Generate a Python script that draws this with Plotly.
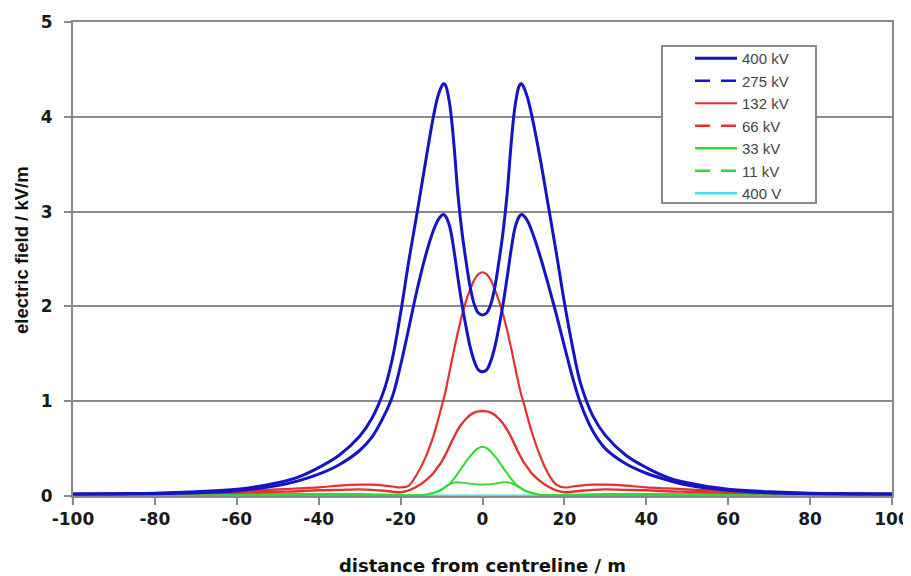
import plotly.graph_objects as go

# distance from centreline (m)
distance = [-100, -90, -80, -70, -60, -50, -45, -40, -35, -30, -27, -24, -22, -20, -18, -16, -14, -12, -11, -10,
            -9.5, -9, -8, -7, -6, -5, -4, -3, -2, -1, 0, 1, 2, 3, 4, 5, 6, 7, 8, 9,
            9.5, 10, 11, 12, 14, 16, 18, 20, 22, 24, 27, 30, 35, 40, 45, 50, 60, 70, 80, 90, 100]

# electric field (kV/m)
kv400 = [0.02, 0.025, 0.03, 0.045, 0.07, 0.14, 0.2, 0.3, 0.43, 0.63, 0.82, 1.12, 1.45, 1.93, 2.48, 2.98, 3.5, 4.0, 4.2, 4.32,
         4.35, 4.33, 4.13, 3.72, 3.18, 2.78, 2.47, 2.2, 2.02, 1.93, 1.91, 1.93, 2.02, 2.2, 2.47, 2.78, 3.18, 3.72, 4.13, 4.33,
         4.35, 4.32, 4.2, 4.02, 3.58, 3.08, 2.57, 2.04, 1.57, 1.18, 0.84, 0.64, 0.43, 0.3, 0.2, 0.14, 0.07, 0.045, 0.03, 0.025, 0.02]
kv275 = [0.02, 0.02, 0.025, 0.035, 0.055, 0.11, 0.16, 0.23, 0.33, 0.48, 0.62, 0.85, 1.05, 1.38, 1.77, 2.17, 2.52, 2.8, 2.9, 2.96,
         2.97, 2.95, 2.84, 2.6, 2.3, 2.02, 1.78, 1.57, 1.42, 1.33, 1.31, 1.33, 1.42, 1.57, 1.78, 2.02, 2.3, 2.6, 2.84, 2.95,
         2.97, 2.96, 2.9, 2.8, 2.54, 2.24, 1.92, 1.58, 1.25, 0.97, 0.68, 0.5, 0.34, 0.24, 0.17, 0.115, 0.06, 0.035, 0.025, 0.02, 0.02]
kv132 = [0.02, 0.025, 0.03, 0.04, 0.05, 0.07, 0.08, 0.09, 0.11, 0.12, 0.12, 0.11, 0.1, 0.09, 0.11, 0.23, 0.4, 0.63, 0.78, 0.94,
         1.02, 1.11, 1.32, 1.53, 1.73, 1.91, 2.06, 2.18, 2.28, 2.34, 2.36, 2.34, 2.28, 2.18, 2.06, 1.92, 1.75, 1.56, 1.35, 1.15,
         1.06, 0.99, 0.83, 0.68, 0.43, 0.24, 0.12, 0.09, 0.1, 0.11, 0.12, 0.12, 0.11, 0.09, 0.08, 0.07, 0.05, 0.04, 0.03, 0.025, 0.02]
kv66 = [0.02, 0.02, 0.025, 0.03, 0.035, 0.045, 0.05, 0.06, 0.065, 0.07, 0.065, 0.055, 0.045, 0.04, 0.06, 0.1, 0.16, 0.24, 0.3, 0.36,
        0.4, 0.44, 0.53, 0.62, 0.7, 0.765, 0.815, 0.855, 0.88, 0.892, 0.896, 0.892, 0.88, 0.855, 0.815, 0.765, 0.7, 0.62, 0.53, 0.44,
        0.4, 0.36, 0.3, 0.24, 0.16, 0.1, 0.06, 0.04, 0.045, 0.055, 0.065, 0.07, 0.065, 0.06, 0.05, 0.045, 0.035, 0.03, 0.025, 0.02, 0.02]
kv33 = [0.01, 0.01, 0.012, 0.015, 0.02, 0.02, 0.02, 0.02, 0.02, 0.02, 0.018, 0.015, 0.012, 0.01, 0.008, 0.008, 0.012, 0.03, 0.045, 0.065,
        0.08, 0.095, 0.13, 0.18, 0.24, 0.3, 0.365, 0.42, 0.47, 0.505, 0.52, 0.505, 0.47, 0.42, 0.365, 0.3, 0.24, 0.18, 0.13, 0.095,
        0.08, 0.065, 0.045, 0.03, 0.012, 0.008, 0.008, 0.01, 0.012, 0.015, 0.018, 0.02, 0.02, 0.02, 0.02, 0.02, 0.02, 0.015, 0.012, 0.01, 0.01]
kv11 = [0.005, 0.005, 0.005, 0.006, 0.007, 0.008, 0.009, 0.01, 0.01, 0.01, 0.01, 0.009, 0.009, 0.008, 0.006, 0.006, 0.012, 0.035, 0.05, 0.07,
        0.085, 0.1, 0.125, 0.142, 0.145, 0.14, 0.135, 0.13, 0.125, 0.122, 0.12, 0.122, 0.125, 0.13, 0.138, 0.145, 0.145, 0.135, 0.115, 0.09,
        0.08, 0.065, 0.048, 0.035, 0.012, 0.006, 0.006, 0.008, 0.009, 0.009, 0.01, 0.01, 0.01, 0.01, 0.009, 0.008, 0.007, 0.006, 0.005, 0.005, 0.005]
v400 = [0.003, 0.003, 0.003, 0.003, 0.003, 0.003, 0.003, 0.003, 0.003, 0.003, 0.003, 0.003, 0.003, 0.003, 0.004, 0.004, 0.004, 0.004, 0.004, 0.004,
        0.004, 0.004, 0.004, 0.004, 0.004, 0.004, 0.004, 0.004, 0.004, 0.004, 0.004, 0.004, 0.004, 0.004, 0.004, 0.004, 0.004, 0.004, 0.004, 0.004,
        0.004, 0.004, 0.004, 0.004, 0.004, 0.004, 0.004, 0.003, 0.003, 0.003, 0.003, 0.003, 0.003, 0.003, 0.003, 0.003, 0.003, 0.003, 0.003, 0.003, 0.003]

series_names = ["400 kV", "275 kV", "132 kV", "66 kV", "33 kV", "11 kV", "400 V"]
series_values = [kv400, kv275, kv132, kv66, kv33, kv11, v400]
x_ticks = [-100, -80, -60, -40, -20, 0, 20, 40, 60, 80, 100]
y_ticks = [0, 1, 2, 3, 4, 5]

BLUE = "#1414C4"
RED = "#E33131"
GREEN = "#2EDC2E"
CYAN = "#3FE3E3"
colors = [BLUE, BLUE, RED, RED, GREEN, GREEN, CYAN]
curve_widths = [3, 3, 2.2, 2.4, 2, 1.8, 2]
legend_widths = [3.2, 2.6, 2.2, 2.6, 2.6, 2.4, 2.6]
legend_dash = ["solid", "15px,11px", "solid", "15px,11px", "solid", "15px,11px", "solid"]

fig = go.Figure()
# draw curves in reverse order so that 400 kV is on top
for i in reversed(range(len(series_names))):
    fig.add_trace(go.Scatter(
        x=distance, y=series_values[i], mode="lines",
        line=dict(color=colors[i], width=curve_widths[i], shape="spline", smoothing=1.0),
        showlegend=False, hoverinfo="skip"))
# legend entries
for i, name in enumerate(series_names):
    fig.add_trace(go.Scatter(
        x=[None], y=[None], mode="lines", name=name, legendgroup=name,
        line=dict(color=colors[i], width=legend_widths[i], dash=legend_dash[i])))

GRID = "#8a8a8a"
OFF = 8  # page body margin
W, H = 911 - OFF, 576 - OFF
L, T = 73 - OFF, 22 - OFF
R = W - L - 819
B = H - T - 474
pw, ph = W - L - R, H - T - B

def px_x(p):
    return (p - OFF - L) / pw

def px_y(p):
    return (H - B - (p - OFF)) / ph

tick_font = dict(family="DejaVu Sans", size=17, color="#1a1a1a", weight="bold")
xtitle_font = dict(family="DejaVu Sans", size=18, color="#111111", weight="bold")
ytitle_font = dict(family="Liberation Sans", size=18.5, color="#111111", weight="bold")

fig.update_layout(
    width=W, height=H, autosize=False,
    margin=dict(l=L, r=R, t=T, b=B, pad=0, autoexpand=False),
    paper_bgcolor="white", plot_bgcolor="white",
    xaxis=dict(range=[-100, 100], tickvals=x_ticks, ticktext=[str(v) for v in x_ticks], automargin=False,
               showgrid=False, zeroline=False, showline=True, linecolor=GRID, linewidth=2, mirror=True,
               ticks="outside", ticklen=7, tickwidth=2, tickcolor=GRID, tickfont=tick_font,
               title=dict(text="distance from centreline / m", font=xtitle_font, standoff=31)),
    yaxis=dict(range=[0, 5], tickvals=y_ticks, ticktext=[str(v) for v in y_ticks], automargin=False,
               showgrid=True, gridcolor=GRID, gridwidth=2, zeroline=False,
               showline=True, linecolor=GRID, linewidth=2, mirror=True,
               ticks="outside", ticklen=7, tickwidth=2, tickcolor=GRID, tickfont=tick_font,
               ticklabelstandoff=8),
    annotations=[dict(text="electric field / kV/m", xref="paper", yref="paper",
                      x=px_x(21), y=px_y(250), xanchor="center", yanchor="middle",
                      textangle=-90, showarrow=False, font=ytitle_font)],
    legend=dict(x=px_x(690), y=px_y(42), xanchor="left", yanchor="top",
                bgcolor="rgba(0,0,0,0)", borderwidth=0,
                font=dict(family="Liberation Sans", size=15, color="#444444"),
                itemwidth=42, tracegroupgap=0, traceorder="normal"),
    shapes=[dict(type="rect", xref="paper", yref="paper",
                 x0=px_x(662), x1=px_x(816), y0=px_y(203), y1=px_y(46),
                 line=dict(color="#8a8a8a", width=2), fillcolor="white", layer="above")],
)

fig.write_html("out.html")
